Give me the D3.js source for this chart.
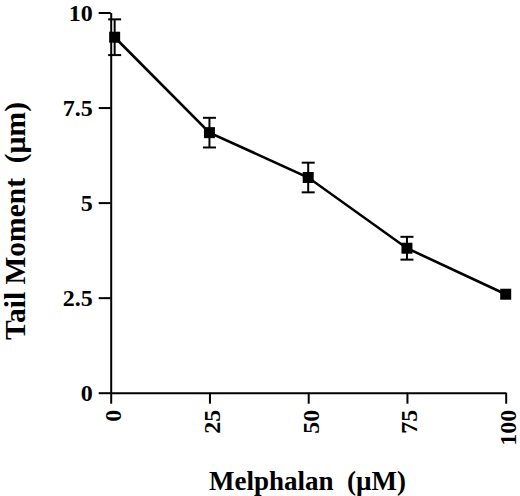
<!DOCTYPE html>
<html>
<head>
<meta charset="utf-8">
<script src="https://cdn.jsdelivr.net/npm/d3@7"></script>
<style>
  body { margin: 0; background: #fff; }
  svg { display: block; }
  text { font-family: "Liberation Serif", "Times New Roman", serif; font-weight: bold; fill: #000; }
  .axis path, .axis line { stroke: #000; stroke-width: 2; }
</style>
</head>
<body>
<div id="chart"></div>
<script>
// data
const doses = [1, 25, 50, 75, 100];
const tailMoment = [9.35, 6.84, 5.66, 3.80, 2.59];
const errBars = [0.47, 0.39, 0.39, 0.30, 0];

const xTicks = [0, 25, 50, 75, 100];
const yTicks = [0, 2.5, 5, 7.5, 10];
const yTickLabels = ["0", "2.5", "5", "7.5", "10"];

const xTitle = "Melphalan  (\u00b5M)";
const yTitle = "Tail Moment  (\u00b5m)";

// margin convention
let margin = {top: 12.5, right: 14.3, bottom: 103.3, left: 110.7};
let width = 520 - margin.left - margin.right;
let height = 496 - margin.top - margin.bottom;

let svg = d3.select("#chart")
    .append("svg")
    .attr("width", 520)
    .attr("height", 496)
    .append("g")
    .attr("transform", "translate(" + margin.left + "," + margin.top + ")");

let points = doses.map((d, i) => ({dose: d, value: tailMoment[i], err: errBars[i]}));

let x = d3.scaleLinear().domain([0, 100]).range([0, width]);
let y = d3.scaleLinear().domain([0, 10]).range([height, 0]);

// axes
svg.append("g")
    .attr("class", "axis y-axis")
    .call(d3.axisLeft(y).tickValues(yTicks).tickSize(12).tickSizeOuter(0)
        .tickFormat((d, i) => yTickLabels[i]))
    .call(g => g.selectAll("text")
        .attr("x", -18)
        .attr("dy", "0.34em")
        .style("font-size", "24px"));

let xAxis = svg.append("g")
    .attr("class", "axis x-axis")
    .attr("transform", "translate(0," + height + ")")
    .call(d3.axisBottom(x).tickValues(xTicks).tickSize(11).tickSizeOuter(0));

xAxis.selectAll("text")
    .attr("y", null)
    .attr("dy", null)
    .attr("transform", "translate(10,17) rotate(-90)")
    .style("text-anchor", "end")
    .style("font-size", "24px");

svg.selectAll(".axis").attr("font-family", null).attr("font-size", null);

// connecting line
svg.append("path")
    .datum(points)
    .attr("fill", "none")
    .attr("stroke", "#000")
    .attr("stroke-width", 2.6)
    .attr("d", d3.line().x(d => x(d.dose)).y(d => y(d.value)));

// error bars (skip the one hidden behind its marker)
let eb = svg.selectAll(".err")
    .data(points.filter(d => d.err > 0))
    .enter()
    .append("g")
    .attr("class", "err")
    .attr("stroke", "#000")
    .attr("stroke-width", 2);

eb.append("line")
    .attr("x1", d => x(d.dose)).attr("x2", d => x(d.dose))
    .attr("y1", d => y(d.value + d.err)).attr("y2", d => y(d.value - d.err));
eb.append("line")
    .attr("x1", d => x(d.dose) - 6.5).attr("x2", d => x(d.dose) + 6.5)
    .attr("y1", d => y(d.value + d.err)).attr("y2", d => y(d.value + d.err));
eb.append("line")
    .attr("x1", d => x(d.dose) - 6.5).attr("x2", d => x(d.dose) + 6.5)
    .attr("y1", d => y(d.value - d.err)).attr("y2", d => y(d.value - d.err));

// square markers
svg.selectAll(".marker")
    .data(points)
    .enter()
    .append("rect")
    .attr("class", "marker")
    .attr("x", d => x(d.dose) - 5.5)
    .attr("y", d => y(d.value) - 5.5)
    .attr("width", 11)
    .attr("height", 11)
    .attr("fill", "#000");

// axis titles
svg.append("text")
    .attr("x", 307.5 - margin.left)
    .attr("y", 490 - margin.top)
    .style("text-anchor", "middle")
    .style("font-size", "27px")
    .style("white-space", "pre")
    .text(xTitle);

svg.append("text")
    .attr("transform", "translate(" + (25 - margin.left) + "," + (221 - margin.top) + ") rotate(-90)")
    .style("text-anchor", "middle")
    .style("font-size", "29.5px")
    .style("white-space", "pre")
    .text(yTitle);
</script>
</body>
</html>
